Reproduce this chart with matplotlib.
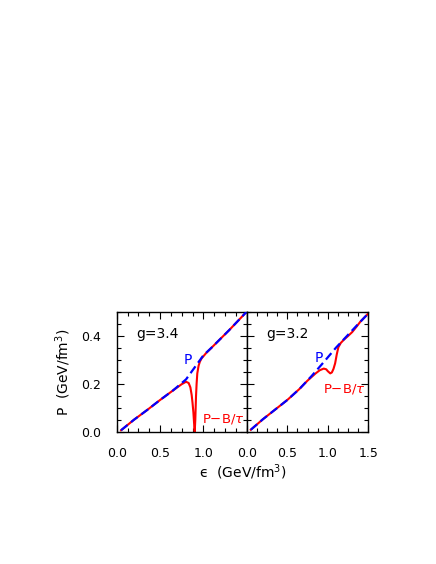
import matplotlib
matplotlib.use("Agg")
import matplotlib.pyplot as plt
from matplotlib.ticker import MultipleLocator, FixedLocator

# ---- data ----
eps_P_left = [0.05, 0.2, 0.35, 0.5, 0.65, 0.8, 0.9, 1.0, 1.1, 1.2, 1.3, 1.4, 1.5]
P_left = [0.006, 0.05, 0.09, 0.132, 0.172, 0.218, 0.268, 0.318, 0.352, 0.388, 0.424, 0.462, 0.5]

eps_R_left = [0.05, 0.2, 0.35, 0.5, 0.65, 0.75, 0.8, 0.83, 0.85, 0.865, 0.875, 0.885, 0.893,
              0.9, 0.907, 0.915, 0.922, 0.93, 0.945, 0.96, 0.98, 1.0, 1.03, 1.1, 1.2, 1.3, 1.4, 1.5]
R_left = [0.006, 0.05, 0.09, 0.132, 0.172, 0.198, 0.208, 0.203, 0.185, 0.153, 0.12, 0.08, 0.035,
          0.0, 0.05, 0.146, 0.2, 0.243, 0.275, 0.292, 0.306, 0.314, 0.327, 0.352, 0.388, 0.424, 0.462, 0.5]

eps_P_right = [0.05, 0.2, 0.35, 0.5, 0.65, 0.8, 0.95, 1.1, 1.2, 1.3, 1.4, 1.5]
P_right = [0.008, 0.052, 0.092, 0.132, 0.178, 0.232, 0.29, 0.35, 0.386, 0.422, 0.458, 0.493]

eps_R_right = [0.05, 0.2, 0.35, 0.5, 0.65, 0.75, 0.85, 0.9, 0.95, 0.98, 1.0, 1.03, 1.05, 1.07,
               1.09, 1.11, 1.13, 1.16, 1.2, 1.25, 1.3, 1.35, 1.4, 1.5]
R_right = [0.008, 0.052, 0.092, 0.132, 0.178, 0.213, 0.243, 0.256, 0.263, 0.26, 0.252, 0.243, 0.247, 0.262,
           0.285, 0.322, 0.352, 0.37, 0.384, 0.399, 0.415, 0.436, 0.458, 0.493]

panel_labels = ["g=3.4", "g=3.2"]
left_xticks = [0.0, 0.5, 1.0]
right_xticks = [0.0, 0.5, 1.0, 1.5]
yticks = [0.0, 0.2, 0.4]

plt.rcParams['font.family'] = ['DejaVu Sans']
plt.rcParams['mathtext.fontset'] = 'dejavusans'

fig = plt.figure(figsize=(4.36, 5.64), dpi=100)
W, H = 436, 564
axL = fig.add_axes([116.7 / W, (H - 431.7) / H, 130 / W, 120 / H])
axR = fig.add_axes([246.7 / W, (H - 431.7) / H, 121.7 / W, 120 / H])

blue = '#0000ff'
red = '#ff0000'

def style(ax, xt, show_y):
    ax.set_xlim(0, 1.5)
    ax.set_ylim(0, 0.5)
    ax.xaxis.set_major_locator(FixedLocator(xt))
    ax.xaxis.set_minor_locator(MultipleLocator(0.125))
    ax.yaxis.set_major_locator(FixedLocator(yticks))
    ax.yaxis.set_minor_locator(MultipleLocator(0.05))
    ax.tick_params(which='both', direction='in', top=True, right=True, width=0.8, labelsize=9)
    ax.tick_params(which='major', length=5, pad=11)
    ax.tick_params(which='minor', length=3)
    ax.xaxis.set_major_formatter(matplotlib.ticker.FormatStrFormatter('%.1f'))
    ax.yaxis.set_major_formatter(matplotlib.ticker.FormatStrFormatter('%.1f'))
    if not show_y:
        ax.tick_params(labelleft=False)
    for s in ax.spines.values():
        s.set_linewidth(1.0)

style(axL, left_xticks, True)
style(axR, right_xticks, False)

axL.plot(eps_R_left, R_left, color=red, lw=1.5, zorder=2)
axL.plot(eps_P_left, P_left, color=blue, lw=1.6, dashes=(3.8, 2.0), zorder=3)
axR.plot(eps_R_right, R_right, color=red, lw=1.5, zorder=2)
axR.plot(eps_P_right, P_right, color=blue, lw=1.6, dashes=(3.8, 2.0), zorder=3)

axL.text(0.23, 0.407, panel_labels[0], fontsize=10, va='center', ha='left')
axR.text(0.246, 0.407, panel_labels[1], fontsize=10, va='center', ha='left')
axL.text(0.82, 0.30, "P", color=blue, fontsize=10, va='center', ha='center')
axR.text(0.885, 0.307, "P", color=blue, fontsize=10, va='center', ha='center')
axL.text(0.98, 0.053, r"P$-$B/$\tau$", color=red, fontsize=9.5, va='center', ha='left')
axR.text(0.935, 0.18, r"P$-$B/$\tau$", color=red, fontsize=9.5, va='center', ha='left')

fig.text(63 / W, 1 - 372 / H, r"P  (GeV/fm$^3$)", rotation=90, fontsize=10, va='center', ha='center')
fig.text(243 / W, 1 - 471.7 / H, "\u03f5  (GeV/fm$^3$)", fontsize=10, va='center', ha='center')

fig.savefig("out.png", dpi=100)
